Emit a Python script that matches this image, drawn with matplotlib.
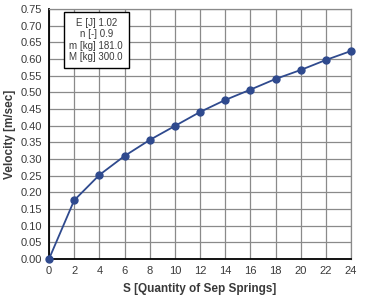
import matplotlib
matplotlib.use('Agg')
import matplotlib.pyplot as plt
from matplotlib import font_manager

springs = [0, 2, 4, 6, 8, 10, 12, 14, 16, 18, 20, 22, 24]
velocity = [0.0, 0.176, 0.252, 0.309, 0.357, 0.399, 0.441, 0.477, 0.508, 0.540, 0.567, 0.597, 0.624]
info_lines = ["E [J] 1.02", "n [-] 0.9", "m [kg] 181.0", "M [kg] 300.0"]

names = {f.name for f in font_manager.fontManager.ttflist}
fam = ['Liberation Sans Narrow', 'DejaVu Sans'] if 'Liberation Sans Narrow' in names else ['Liberation Sans', 'DejaVu Sans']
plt.rcParams['font.family'] = fam

txt = '#3a3a3a'
line_c = '#2f4a8e'

fig = plt.figure(figsize=(3.67, 3.07), dpi=100)
ax = fig.add_axes([49 / 367, 48 / 307, 302 / 367, 250 / 307])

ax.plot(springs, velocity, color=line_c, lw=1.3, marker='o', ms=5, zorder=3, clip_on=False)

ax.set_xlim(0, 24)
ax.set_ylim(0, 0.75)
ax.set_xticks(range(0, 25, 2))
ax.set_yticks([i * 0.05 for i in range(16)])
ax.set_yticklabels([f'{i * 0.05:.2f}' for i in range(16)])
ax.grid(True, color='#8a8a8a', lw=0.9)
ax.set_axisbelow(True)
for s in ['top', 'right']:
    ax.spines[s].set_color('#8a8a8a')
    ax.spines[s].set_linewidth(0.9)
for s in ['left', 'bottom']:
    ax.spines[s].set_color('black')
    ax.spines[s].set_linewidth(1.3)
ax.tick_params(length=0, labelsize=8, colors=txt, pad=5)

ax.set_xlabel('S [Quantity of Sep Springs]', fontsize=8.5, fontweight='bold', color=txt, labelpad=5)
ax.set_ylabel('Velocity [m/sec]', fontsize=8.5, fontweight='bold', color=txt, labelpad=3)

ax.text(3.75, 0.657, '\n'.join(info_lines), ha='center', va='center', fontsize=7, color=txt,
        linespacing=1.15,
        bbox=dict(boxstyle='square,pad=0.6', fc='white', ec='black', lw=1.0))

fig.savefig('out.png', dpi=100)
